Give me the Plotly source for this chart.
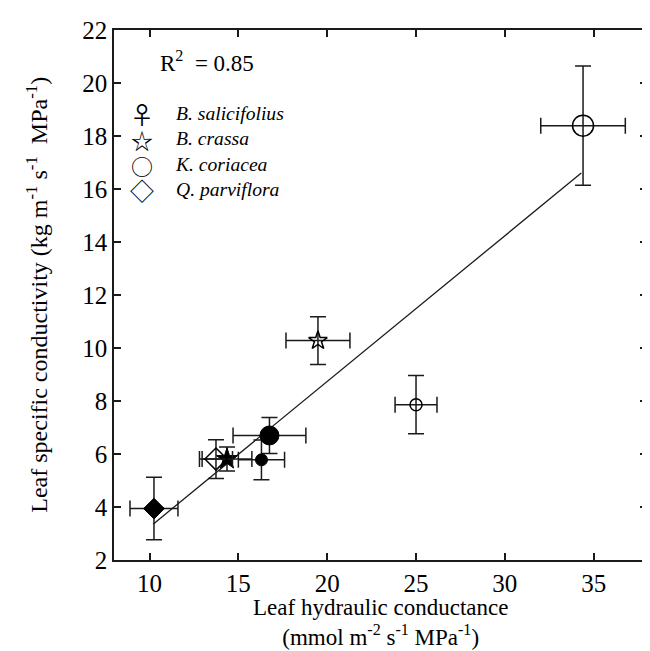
import plotly.graph_objects as go

# ---- data ----
species = ["B. salicifolius", "B. crassa", "K. coriacea", "Q. parviflora"]
legend_glyphs = ["♀", "☆", "○", "◇"]

# open symbols
kl_open = [25.0, 19.48, 34.4, 13.74]
ksl_open = [7.86, 10.28, 18.39, 5.81]
kl_open_err = [1.18, 1.8, 2.38, 0.93]
ksl_open_err = [1.1, 0.9, 2.25, 0.73]

# filled symbols
kl_filled = [16.3, 14.36, 16.75, 10.25]
ksl_filled = [5.78, 5.81, 6.70, 3.94]
kl_filled_err = [1.3, 1.4, 2.05, 1.35]
ksl_filled_err = [0.75, 0.45, 0.68, 1.18]

# regression line
fit_x = [10.2, 34.3]
fit_y = [3.35, 16.6]
r_squared = "0.85"

x_ticks = [10, 15, 20, 25, 30, 35]
y_ticks = [2, 4, 6, 8, 10, 12, 14, 16, 18, 20, 22]

# ---- style ----
FONT = "Liberation Serif"
SYMFONT = "Noto Sans CJK JP"
INK = "black"
open_symbols = ["circle-open", "star-open", "circle-open", "diamond-open"]
open_sizes = [12, 14, 21, 17]
filled_symbols = ["circle", "star", "circle", "diamond"]
filled_sizes = [12, 16, 19, 16]
glyph_sizes = [24, 22, 22, 24]

fig = go.Figure()

fig.add_trace(go.Scatter(
    x=fit_x, y=fit_y, mode="lines",
    line=dict(color="#1a1a1a", width=1.3), showlegend=False, hoverinfo="skip"))

err_style = dict(type="data", visible=True, color="#1a1a1a", thickness=1.5, width=8)

fig.add_trace(go.Scatter(
    x=kl_filled, y=ksl_filled, mode="markers",
    marker=dict(symbol=filled_symbols, size=filled_sizes, color=INK, opacity=1,
                line=dict(color=INK, width=1)),
    error_x=dict(array=kl_filled_err, **err_style),
    error_y=dict(array=ksl_filled_err, **err_style),
    showlegend=False))

fig.add_trace(go.Scatter(
    x=kl_open, y=ksl_open, mode="markers",
    marker=dict(symbol=open_symbols, size=open_sizes, color=INK, opacity=1,
                line=dict(color=INK, width=1.5)),
    error_x=dict(array=kl_open_err, **err_style),
    error_y=dict(array=ksl_open_err, **err_style),
    showlegend=False))

annotations = []
# R^2 label
annotations.append(dict(
    xref="paper", yref="paper", x=0.082, y=0.94, xanchor="left", yanchor="middle",
    text="R<sup>2</sup>&nbsp; = " + r_squared, showarrow=False,
    font=dict(family=FONT, size=23, color="black")))

# manual legend: one block of symbols, one block of names (20 px font -> 26 px rows)
glyph_text = "<br>".join(
    '<span style="font-size:%dpx">%s</span>' % (s, g)
    for g, s in zip(legend_glyphs, glyph_sizes))
name_text = "<br>".join("<i>" + n + "</i>" for n in species)
annotations.append(dict(
    xref="paper", yref="paper", x=0.052, y=0.771, xanchor="center", yanchor="middle",
    align="center", text=glyph_text, showarrow=False, borderpad=0,
    font=dict(family=SYMFONT, size=19.6, color="black")))
annotations.append(dict(
    xref="paper", yref="paper", x=0.113, y=0.771, xanchor="left", yanchor="middle",
    align="left", text=name_text, showarrow=False, borderpad=0,
    font=dict(family=FONT, size=19.6, color="black")))

# axis titles
annotations.append(dict(
    xref="paper", yref="paper", x=0.5, y=-0.062, xanchor="center", yanchor="top",
    text="Leaf hydraulic conductance<br>(mmol m<sup>-2</sup> s<sup>-1</sup> MPa<sup>-1</sup>)",
    showarrow=False, font=dict(family=FONT, size=23, color="black")))
annotations.append(dict(
    xref="paper", yref="paper", x=-0.145, y=0.5, xanchor="center", yanchor="middle",
    textangle=-90,
    text="Leaf specific conductivity (kg m<sup>-1</sup> s<sup>-1</sup>&nbsp; MPa<sup>-1</sup>)",
    showarrow=False, font=dict(family=FONT, size=24, color="black")))

axis_common = dict(
    showline=True, linecolor="#1a1a1a", linewidth=1.5, mirror="ticks",
    ticks="inside", ticklen=7, tickwidth=1.5, tickcolor="#1a1a1a",
    showgrid=False, zeroline=False,
    tickfont=dict(family=FONT, size=25, color="black"))

fig.update_layout(
    width=650, height=651,
    margin=dict(l=106, r=9, t=16, b=99),
    paper_bgcolor="white", plot_bgcolor="white",
    font=dict(family=FONT, color="black"),
    xaxis=dict(range=[8, 38], tickvals=x_ticks, **axis_common),
    yaxis=dict(range=[2, 22], tickvals=y_ticks, **axis_common),
    annotations=annotations,
    showlegend=False)

fig.write_html("out.html")
